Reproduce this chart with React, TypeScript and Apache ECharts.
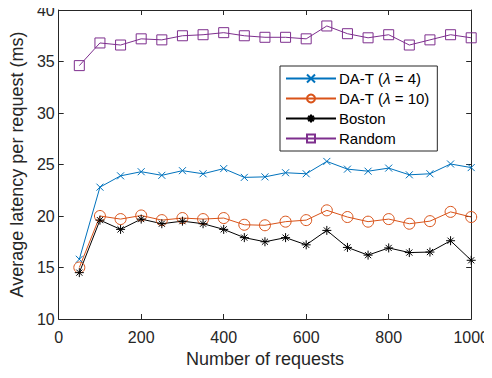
import React, { useEffect, useRef } from "react";
import * as echarts from "echarts";

const requests = [50, 100, 150, 200, 250, 300, 350, 400, 450, 500, 550, 600, 650, 700, 750, 800, 850, 900, 950, 1000];
const daT4 = [15.8, 22.8, 23.9, 24.3, 23.95, 24.4, 24.1, 24.6, 23.75, 23.8, 24.2, 24.1, 25.3, 24.55, 24.35, 24.65, 24.0, 24.1, 25.05, 24.7];
const daT10 = [15.0, 20.0, 19.7, 20.05, 19.6, 19.8, 19.7, 19.8, 19.15, 19.1, 19.45, 19.6, 20.55, 19.9, 19.45, 19.7, 19.25, 19.5, 20.4, 19.9];
const boston = [14.5, 19.6, 18.7, 19.7, 19.25, 19.5, 19.25, 18.7, 17.9, 17.5, 17.9, 17.2, 18.6, 16.95, 16.2, 16.9, 16.45, 16.5, 17.6, 15.7];
const random = [34.6, 36.8, 36.6, 37.2, 37.1, 37.5, 37.6, 37.8, 37.5, 37.35, 37.35, 37.2, 38.45, 37.7, 37.3, 37.6, 36.6, 37.1, 37.6, 37.3];
const seriesNames = ["DA-T (λ = 4)", "DA-T (λ = 10)", "Boston", "Random"];

const AX = "#262626";
const FONT = "Liberation Sans, Arial, sans-serif";

const pair = (ys: number[]) => requests.map((x, i) => [x, ys[i]]);

export default function App() {
  const ref = useRef<HTMLDivElement>(null);
  useEffect(() => {
    if (!ref.current) return;
    const chart = echarts.init(ref.current, undefined, { renderer: "svg" });
    const xBase = {
      type: "value" as const,
      min: 0,
      max: 1000,
      interval: 200,
      axisLine: { show: true, onZero: false, lineStyle: { color: AX, width: 1 } },
      axisTick: { show: true, inside: true, length: 5, lineStyle: { color: AX } },
      splitLine: { show: false },
    };
    const yBase = {
      type: "value" as const,
      min: 10,
      max: 40,
      interval: 5,
      axisLine: { show: true, onZero: false, lineStyle: { color: AX, width: 1 } },
      axisTick: { show: true, inside: true, length: 5, lineStyle: { color: AX } },
      splitLine: { show: false },
    };
    const xMark = "path://M0,0L10,10M10,0L0,10";
    const star = "path://M5,0L5,10M0,5L10,5M1.6,1.6L8.4,8.4M8.4,1.6L1.6,8.4";
    const mk = (name: string, ys: number[], color: string, symbol: string, size: number) => ({
      name,
      type: "line" as const,
      data: pair(ys),
      symbol,
      symbolSize: size,
      showAllSymbol: true,
      lineStyle: { color, width: 1 },
      itemStyle: { color: "rgba(255,255,255,0)", borderColor: color, borderWidth: 1 },
      emphasis: { disabled: true },
    });
    chart.setOption({
      animation: false,
      textStyle: { fontFamily: FONT },
      grid: { left: 58, right: 18, top: 10, bottom: 59, containLabel: false },
      xAxis: [
        {
          ...xBase,
          position: "bottom",
          name: "Number of requests",
          nameLocation: "middle",
          nameGap: 29,
          nameTextStyle: { color: AX, fontSize: 18, fontFamily: FONT },
          axisLabel: { color: AX, fontSize: 16, margin: 10, fontFamily: FONT, formatter: (v: number) => String(v) },
        },
        { ...xBase, position: "top", axisLabel: { show: false } },
      ],
      yAxis: [
        {
          ...yBase,
          position: "left",
          name: "Average latency per request (ms)",
          nameLocation: "middle",
          nameGap: 32,
          nameTextStyle: { color: AX, fontSize: 18, fontFamily: FONT },
          axisLabel: { color: AX, fontSize: 16, margin: 4, fontFamily: FONT },
        },
        { ...yBase, position: "right", axisLabel: { show: false } },
      ],
      legend: {
        orient: "vertical",
        left: 280,
        top: 66,
        width: 156,
        itemWidth: 50,
        itemHeight: 10,
        itemGap: 5,
        padding: [5, 8, 5, 5],
        borderColor: AX,
        borderWidth: 1,
        backgroundColor: "#fff",
        data: seriesNames,
        textStyle: {
          color: "#000",
          fontSize: 15,
          fontFamily: FONT,
          padding: [0, 0, 0, -2],
          rich: { it: { fontStyle: "italic", fontSize: 15, fontFamily: FONT, color: "#000" } },
        },
        formatter: (n: string) => n.replace("λ", "{it|λ}"),
      },
      series: [
        mk(seriesNames[0], daT4, "#0072BD", xMark, 7),
        mk(seriesNames[1], daT10, "#D95319", "circle", 11),
        mk(seriesNames[2], boston, "#000000", star, 9),
        mk(seriesNames[3], random, "#7E2F8E", "rect", 10),
      ],
    });
    return () => chart.dispose();
  }, []);
  return <div ref={ref} style={{ width: 492, height: 378, margin: -8 }} />;
}
